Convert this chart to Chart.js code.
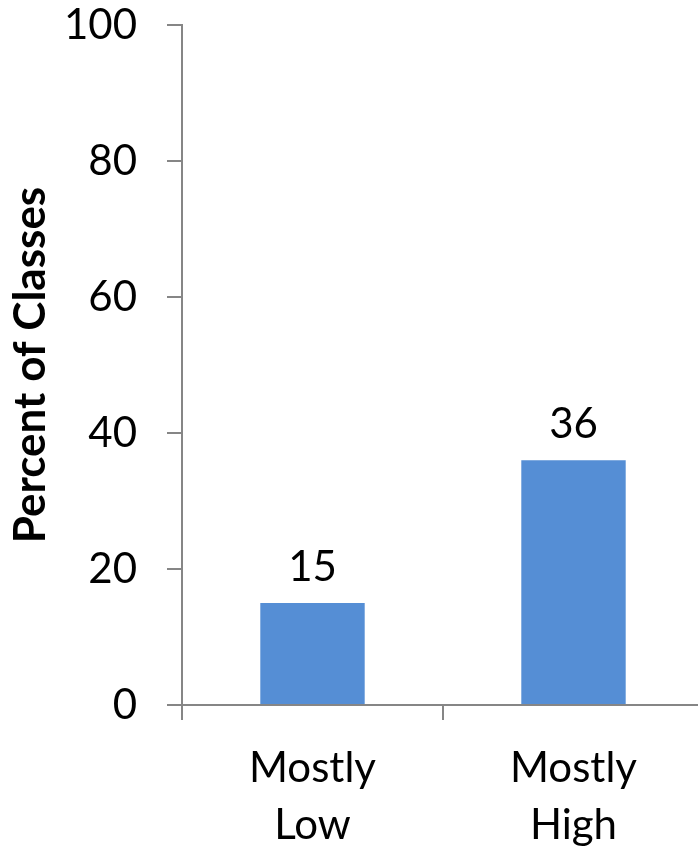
<!DOCTYPE html>
<html>
<head>
<meta charset="utf-8">
<script src="https://cdn.jsdelivr.net/npm/chart.js@4/dist/chart.umd.min.js"></script>
<style>
  html, body { margin: 0; padding: 0; background: #fff; overflow: hidden; }
  #wrap { width: 704px; height: 851px; }
</style>
</head>
<body>
<div id="wrap"><canvas id="chart" width="704" height="851"></canvas></div>
<script>
// chart data
const categories = [["Mostly", "Low"], ["Mostly", "High"]];
const percentValues = [15, 36];
const yTicks = [0, 20, 40, 60, 80, 100];

const axisGrey = "#868686";
const barBlue = "#558ED5";

// draws the value above each bar
const valueLabels = {
    id: "valueLabels",
    afterDatasetsDraw(chart) {
        const ctx = chart.ctx;
        const meta = chart.getDatasetMeta(0);
        ctx.save();
        ctx.font = "42px Lato";
        ctx.fillStyle = "#000";
        ctx.textAlign = "center";
        ctx.textBaseline = "alphabetic";
        meta.data.forEach((bar, i) => {
            ctx.fillText(String(percentValues[i]), bar.x, bar.y - 22);
        });
        ctx.restore();
    }
};

new Chart(document.getElementById("chart"), {
    type: "bar",
    data: {
        labels: categories,
        datasets: [{
            data: percentValues,
            backgroundColor: barBlue,
            categoryPercentage: 0.8,
            barPercentage: 0.5
        }]
    },
    options: {
        responsive: false,
        animation: false,
        layout: { padding: 0 },
        plugins: {
            legend: { display: false },
            tooltip: { enabled: false }
        },
        scales: {
            x: {
                grid: {
                    offset: true,
                    drawOnChartArea: false,
                    drawTicks: true,
                    tickLength: 15,
                    color: axisGrey,
                    lineWidth: 2
                },
                border: { display: true, color: axisGrey, width: 2 },
                ticks: {
                    color: "#000",
                    padding: 20,
                    maxRotation: 0,
                    font: { family: "Lato", size: 42, lineHeight: 1.36 }
                },
                afterFit(scale) { scale.height = 146; }
            },
            y: {
                min: 0,
                max: 100,
                afterBuildTicks(scale) {
                    scale.ticks = yTicks.map(v => ({ value: v }));
                },
                grid: {
                    drawOnChartArea: false,
                    drawTicks: true,
                    tickLength: 15,
                    color: axisGrey,
                    lineWidth: 2
                },
                border: { display: true, color: axisGrey, width: 2 },
                ticks: {
                    color: "#000",
                    padding: 30,
                    font: { family: "Lato", size: 42 }
                },
                title: {
                    display: true,
                    text: "Percent of Classes",
                    color: "#000",
                    padding: { top: 4, bottom: 0 },
                    font: { family: "Lato", size: 44, weight: "bold", lineHeight: 1.2 }
                },
                afterFit(scale) {
                    scale.width = 182;
                    scale.paddingTop = 25;
                }
            }
        }
    },
    plugins: [valueLabels]
});
</script>
</body>
</html>
